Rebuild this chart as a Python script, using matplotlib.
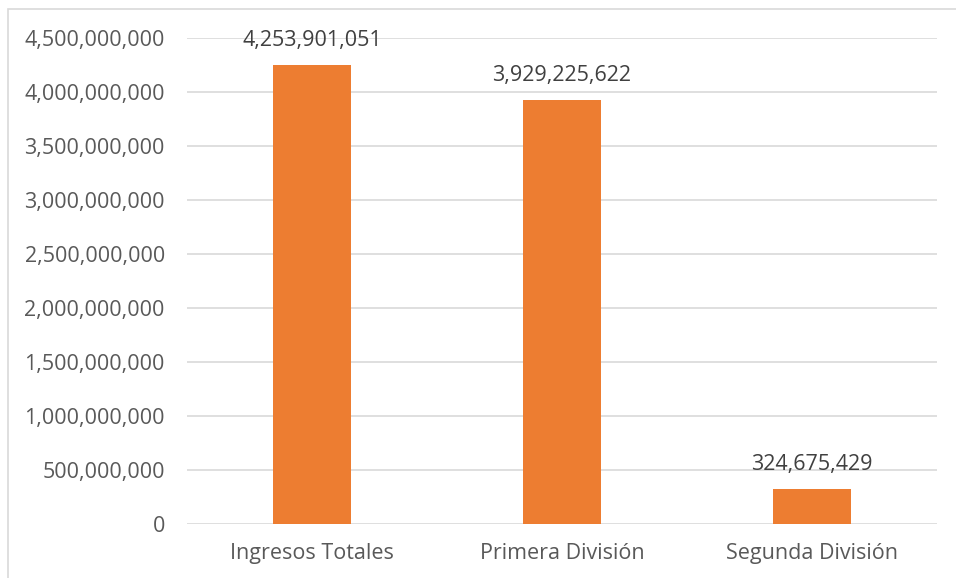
import matplotlib.pyplot as plt
from matplotlib.patches import Rectangle
from matplotlib.ticker import FuncFormatter, MultipleLocator

categories = ["Ingresos Totales", "Primera División", "Segunda División"]
values = [4253901051, 3929225622, 324675429]

plt.rcParams['font.family'] = ['Open Sans', 'DejaVu Sans']
text_color = '#595959'

W, H = 956, 578
fig = plt.figure(figsize=(W / 100, H / 100), dpi=100)
ax = fig.add_axes([187 / W, 1 - 524 / H, 750 / W, 486 / H])

x = range(len(categories))
ax.bar(x, values, width=0.31, color='#ED7D31', zorder=3)

for xi, v in zip(x, values):
    ax.annotate(f"{v:,}", (xi, v), xytext=(0, 10), textcoords='offset points',
                ha='center', va='bottom', fontsize=15.5, color='#404040')

ax.set_xlim(-0.5, 2.5)
ax.set_ylim(0, 4.5e9)
ax.yaxis.set_major_locator(MultipleLocator(5e8))
ax.yaxis.set_major_formatter(FuncFormatter(lambda v, p: f"{int(v):,}"))
ax.set_xticks(list(x))
ax.set_xticklabels(categories)
ax.tick_params(axis='both', length=0, labelsize=15.5, colors=text_color)
ax.tick_params(axis='y', pad=16)
ax.tick_params(axis='x', pad=14)
ax.grid(axis='y', color='#d9d9d9', linewidth=1.2, zorder=0)
for s in ax.spines.values():
    s.set_visible(False)

# chart border
fig.patches.append(Rectangle((8 / W, -0.1), 2, 1 - 9 / H + 0.1, transform=fig.transFigure,
                             fill=False, edgecolor='#d9d9d9', linewidth=1.2))

fig.savefig('out.png', dpi=100)
